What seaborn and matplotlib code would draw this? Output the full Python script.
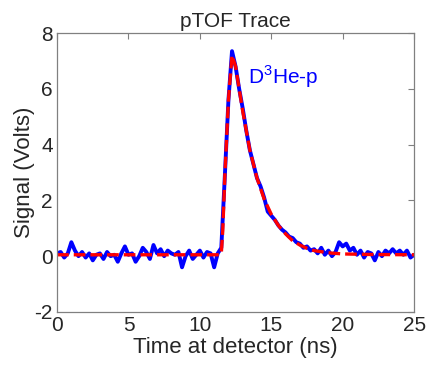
import matplotlib
matplotlib.use("Agg")
import matplotlib.pyplot as plt
import seaborn as sns
import pandas as pd

# measured pTOF signal (ns, V)
time_ns = [0.0, 0.25, 0.5, 0.75, 1.0, 1.25, 1.5, 1.75, 2.0, 2.25, 2.5, 2.75,
           3.0, 3.25, 3.5, 3.75, 4.0, 4.25, 4.5, 4.75, 5.0, 5.25, 5.5, 5.75,
           6.0, 6.25, 6.5, 6.75, 7.0, 7.25, 7.5, 7.75, 8.0, 8.25, 8.5, 8.75,
           9.0, 9.25, 9.5, 9.75, 10.0, 10.25, 10.5, 10.75, 11.0, 11.25, 11.5, 11.75,
           12.0, 12.25, 12.5, 12.75, 13.0, 13.25, 13.5, 13.75, 14.0, 14.25, 14.5, 14.75,
           15.0, 15.25, 15.5, 15.75, 16.0, 16.25, 16.5, 16.75, 17.0, 17.25, 17.5, 17.75,
           18.0, 18.25, 18.5, 18.75, 19.0, 19.25, 19.5, 19.75, 20.0, 20.25, 20.5, 20.75,
           21.0, 21.25, 21.5, 21.75, 22.0, 22.25, 22.5, 22.75, 23.0, 23.25, 23.5, 23.75,
           24.0, 24.25, 24.5, 24.75, 25.0]
signal_v = [0.1, 0.15, -0.05, 0.1, 0.5, 0.2, 0.0, 0.15, -0.05, 0.1, -0.15, 0.05,
            0.1, -0.1, 0.15, 0.0, 0.05, -0.2, 0.1, 0.35, 0.05, 0.1, -0.2, 0.0,
            0.3, 0.15, -0.1, 0.4, 0.1, 0.25, 0.0, 0.2, 0.1, 0.05, 0.15, -0.4,
            0.0, 0.2, -0.1, 0.05, 0.2, -0.05, 0.15, 0.1, -0.4, 0.1, 0.3, 2.9,
            5.6, 7.35, 6.8, 6.0, 5.3, 4.5, 3.8, 3.3, 2.8, 2.5, 2.1, 1.6,
            1.45, 1.3, 1.1, 0.95, 0.85, 0.7, 0.65, 0.5, 0.45, 0.3, 0.35, 0.2,
            0.25, 0.1, 0.3, 0.05, 0.2, 0.0, 0.15, 0.5, 0.35, 0.45, 0.2, 0.3,
            0.05, 0.2, -0.05, 0.15, 0.1, -0.15, 0.15, 0.0, 0.2, 0.1, 0.25, 0.1,
            0.2, 0.05, 0.2, -0.05, 0.05]

# fitted curve
fit_time = [0.0, 5.0, 10.0, 11.4, 11.5, 11.6, 11.75, 12.0, 12.25, 12.5, 12.75, 13.0,
            13.5, 14.0, 14.5, 15.0, 15.5, 16.0, 16.5, 17.0, 17.5, 18.0, 19.0, 20.0,
            22.0, 25.0]
fit_v = [0.05, 0.05, 0.05, 0.05, 0.1, 0.9, 2.9, 5.6, 7.2, 6.8, 6.0, 5.2,
         3.8, 2.8, 2.05, 1.5, 1.1, 0.8, 0.55, 0.4, 0.28, 0.2, 0.12, 0.08,
         0.06, 0.05]

sig = pd.DataFrame({"t": time_ns, "v": signal_v})
fit = pd.DataFrame({"t": fit_time, "v": fit_v})

sns.set_style("white")
plt.rcParams["font.family"] = ["Liberation Sans", "DejaVu Sans"]
plt.rcParams["axes.unicode_minus"] = False
plt.rcParams["mathtext.fontset"] = "custom"
plt.rcParams["mathtext.rm"] = "Liberation Sans"

fig = plt.figure(figsize=(4.26, 3.67), dpi=100)
ax = fig.add_axes([0.134, 0.15, 0.838, 0.76])

sns.lineplot(data=sig, x="t", y="v", color="#0000ff", linewidth=2.8, ax=ax)
sns.lineplot(data=fit, x="t", y="v", color="#ff0000", linewidth=2.4, ax=ax)
ax.lines[-1].set_dashes([3.5, 1.5])

ax.text(13.4, 6.45, r"D$^{\mathrm{3}}$He-p", color="#0000ff", fontsize=15,
        va="center", ha="left")

ax.set_xlim(0, 25)
ax.set_ylim(-2, 8)
ax.set_xticks([0, 5, 10, 15, 20, 25])
ax.set_yticks([-2, 0, 2, 4, 6, 8])
ax.tick_params(direction="in", top=True, right=True, length=4, width=0.8,
               labelsize=15, color="#808080", pad=3)
for s in ax.spines.values():
    s.set_color("#808080")
    s.set_linewidth(0.9)

ax.set_title("pTOF Trace", fontsize=15, pad=4)
ax.set_xlabel("Time at detector (ns)", fontsize=16, labelpad=1)
ax.set_ylabel("Signal (Volts)", fontsize=16, labelpad=0)

fig.savefig("out.png", dpi=100)
